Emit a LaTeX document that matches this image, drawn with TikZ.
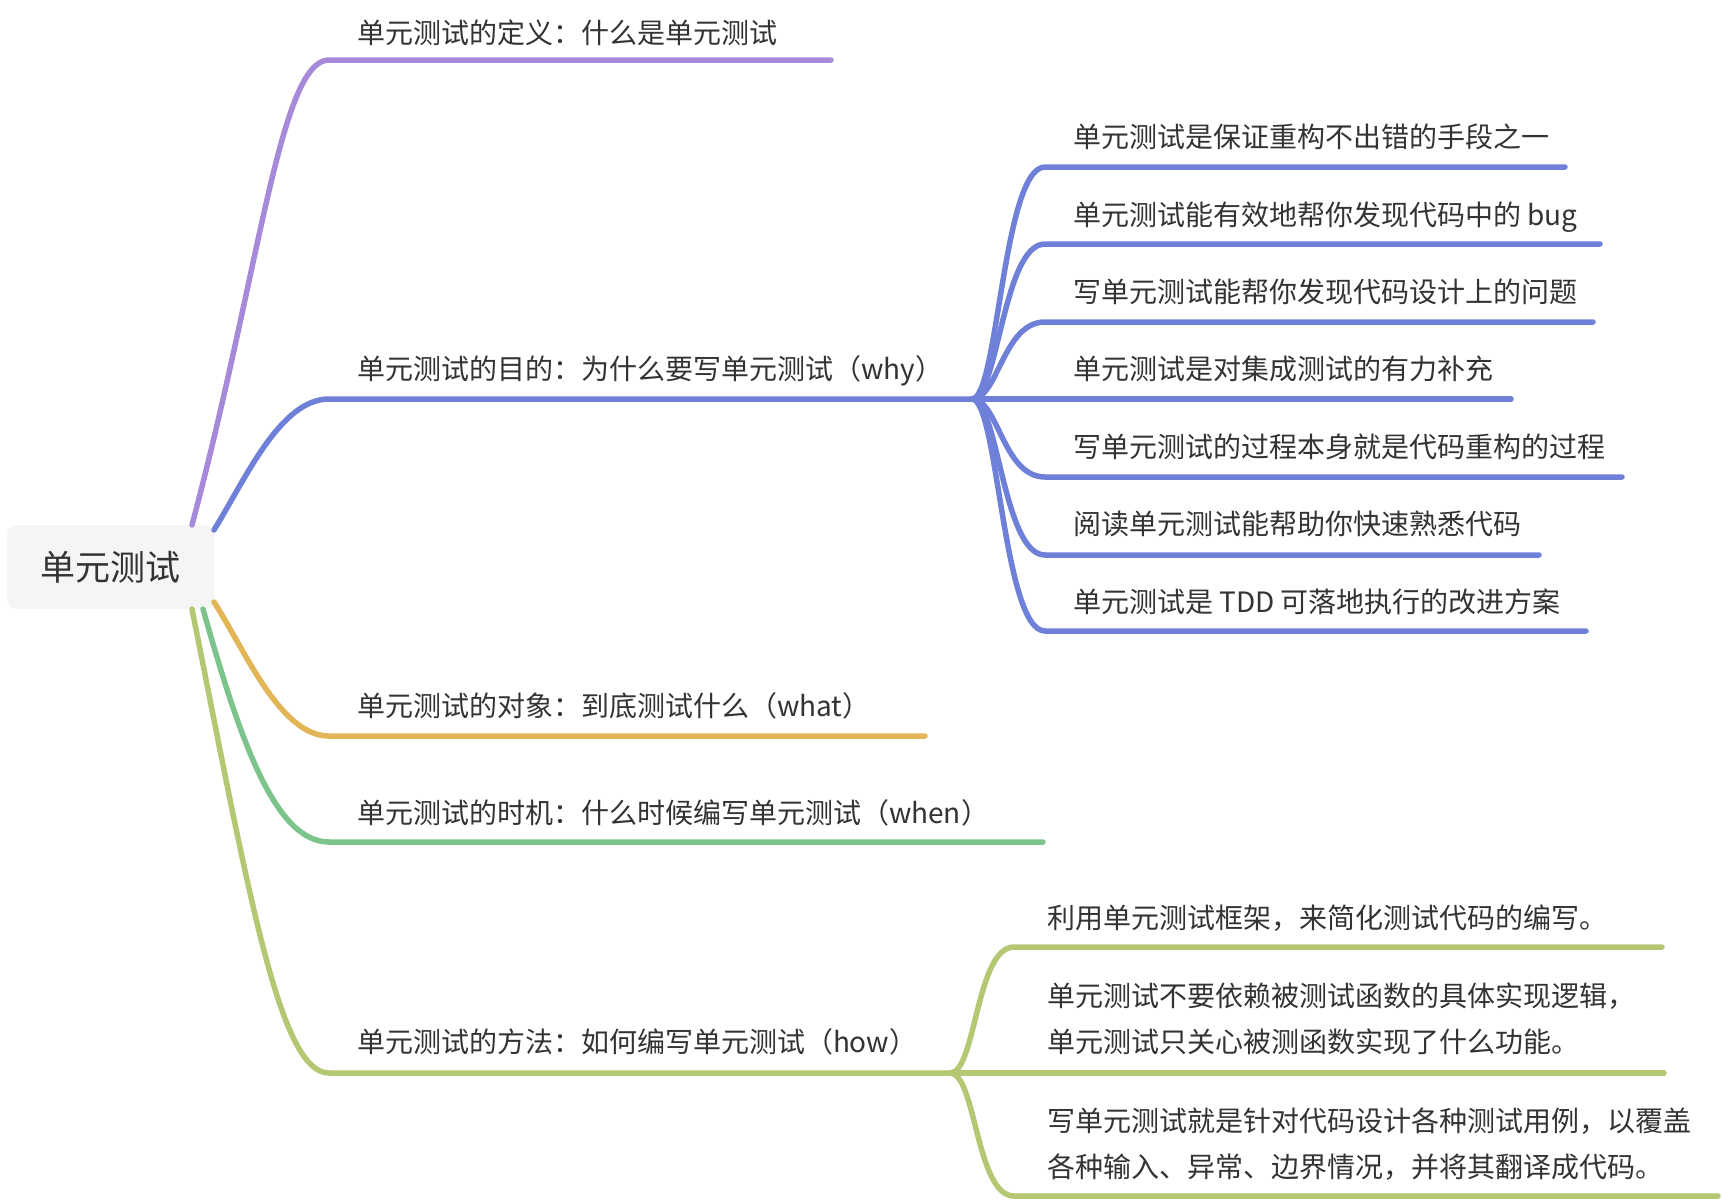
\documentclass[tikz,border=0pt]{standalone}
\usepackage{fontspec}
\newfontfamily\cjk{Noto Sans CJK SC}
\usetikzlibrary{calc}
\definecolor{txt}{HTML}{333333}
\definecolor{rootfill}{HTML}{F5F5F5}
\definecolor{cpurple}{HTML}{A68AD9}
\definecolor{cblue}{HTML}{6F80D9}
\definecolor{corange}{HTML}{E2B557}
\definecolor{cgreen}{HTML}{7CC48B}
\definecolor{cyg}{HTML}{B4C874}
\tikzset{
  br/.style={line width=5.5pt, line cap=round},
  lbl/.style={anchor=base west, inner sep=0pt, outer sep=0pt, text=txt, font=\cjk\fontsize{28}{34}\selectfont},
  lbltwo/.style={anchor=west, inner sep=0pt, outer sep=0pt, text=txt, align=left, font=\cjk\fontsize{28}{46}\selectfont},
  rootbox/.style={fill=rootfill, rounded corners=10pt, minimum width=207pt, minimum height=84pt, inner sep=0pt, outer sep=0pt, text=txt, font=\cjk\fontsize{35}{42}\selectfont}
}
\begin{document}
\begin{tikzpicture}[x=1pt,y=-1pt]
\useasboundingbox (0,0) rectangle (1722,1202);
% root
\node[rootbox] (root) at (110.5,567) {单元测试};

% main branch coordinates
\coordinate (pA) at (329,60);   \coordinate (pE) at (831,60);
\coordinate (bA) at (329,399);  \coordinate (bHub) at (972,399);
\coordinate (oA) at (329,736);  \coordinate (oE) at (925,736);
\coordinate (gA) at (329,842);  \coordinate (gE) at (1043,842);
\coordinate (yA) at (329,1073); \coordinate (yHub) at (950,1073);

% main labels
\node[lbl] (pL) at (357,43.6) {单元测试的定义：什么是单元测试};
\node[lbl] (bL) at (357,379.6) {单元测试的目的：为什么要写单元测试（why）};
\node[lbl] (oL) at (357,716.6) {单元测试的对象：到底测试什么（what）};
\node[lbl] (gL) at (357,823.6) {单元测试的时机：什么时候编写单元测试（when）};
\node[lbl] (yL) at (357,1052.6) {单元测试的方法：如何编写单元测试（how）};

% main branches
\draw[br, cpurple] ($(root.north east)+(-22,0)$) .. controls +(68,-255) and +(-49,0) .. (pA) -- (pE);
\draw[br, cblue] ($(root.north east)+(0,5)$) .. controls +(31,-50) and +(-49,0) .. (bA) -- (bHub);
\draw[br, corange] ($(root.south east)+(0,-7)$) .. controls +(31,48) and +(-49,0) .. (oA) -- (oE);
\draw[br, cgreen] ($(root.south east)+(-11,0)$) .. controls +(37,131) and +(-54,0) .. (gA) -- (gE);
\draw[br, cyg] ($(root.south east)+(-22,0)$) .. controls +(58,291) and +(-49,0) .. (yA) -- (yHub);

% blue children
\coordinate (c1S) at (1045,167); \coordinate (c1E) at (1565,167);
\coordinate (c2S) at (1045,244); \coordinate (c2E) at (1600,244);
\coordinate (c3S) at (1045,322); \coordinate (c3E) at (1593,322);
\coordinate (c4E) at (1511,399);
\coordinate (c5S) at (1045,477); \coordinate (c5E) at (1622,477);
\coordinate (c6S) at (1045,555); \coordinate (c6E) at (1539,555);
\coordinate (c7S) at (1045,631); \coordinate (c7E) at (1586,631);
\foreach \c in {c1,c2,c3,c5,c6,c7}{
  \draw[br, cblue] (bHub) .. controls +(26,0) and +(-42,0) .. (\c S) -- (\c E);
}
\draw[br, cblue] (bHub) -- (c4E);

\node[lbl] (c1L) at (1073,147.6) {单元测试是保证重构不出错的手段之一};
\node[lbl] (c2L) at (1073,225.6) {单元测试能有效地帮你发现代码中的 bug};
\node[lbl] (c3L) at (1073,302.6) {写单元测试能帮你发现代码设计上的问题};
\node[lbl] (c4L) at (1073,379.6) {单元测试是对集成测试的有力补充};
\node[lbl] (c5L) at (1073,457.6) {写单元测试的过程本身就是代码重构的过程};
\node[lbl] (c6L) at (1073,534.6) {阅读单元测试能帮助你快速熟悉代码};
\node[lbl] (c7L) at (1073,612.6) {单元测试是 TDD 可落地执行的改进方案};

% how children
\coordinate (h1S) at (1014,947);  \coordinate (h1E) at (1662,947);
\coordinate (h2E) at (1664,1073);
\coordinate (h3S) at (1014,1196); \coordinate (h3E) at (1718,1196);
\draw[br, cyg] (yHub) .. controls +(26,0) and +(-38,0) .. (h1S) -- (h1E);
\draw[br, cyg] (yHub) -- (h2E);
\draw[br, cyg] (yHub) .. controls +(26,0) and +(-38,0) .. (h3S) -- (h3E);

\node[lbl] (h1L) at (1047,928.6) {利用单元测试框架，来简化测试代码的编写。};
\node[lbltwo] (h2L) at (1047,1019) {单元测试不要依赖被测试函数的具体实现逻辑，\\单元测试只关心被测函数实现了什么功能。};
\node[lbltwo] (h3L) at (1047,1144) {写单元测试就是针对代码设计各种测试用例，以覆盖\\各种输入、异常、边界情况，并将其翻译成代码。};
\end{tikzpicture}
\end{document}
